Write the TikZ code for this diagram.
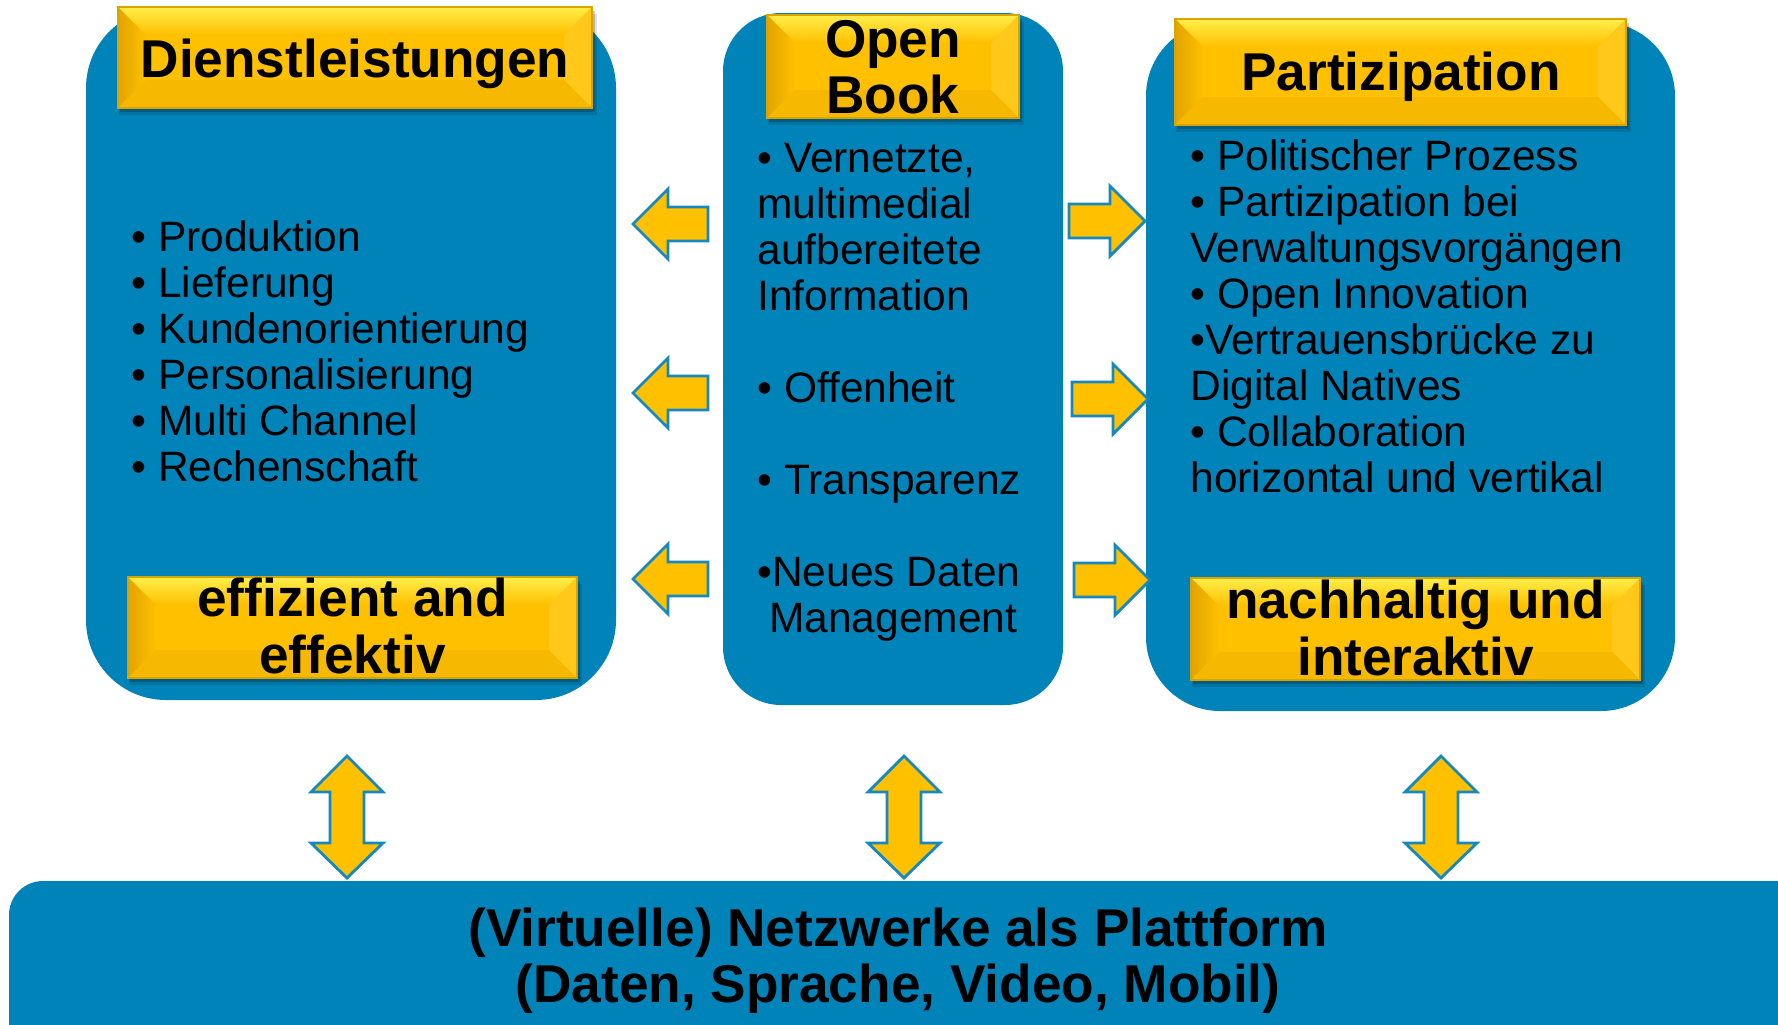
\documentclass[tikz,border=0pt]{standalone}
\usepackage{fontspec}
\setmainfont{Liberation Sans}
\usetikzlibrary{fit}
\definecolor{bblue}{HTML}{0083B9}
\definecolor{gold}{HTML}{FFC000}
\definecolor{goldtop}{HTML}{FFEE4A}
\definecolor{goldleft}{HTML}{E2A400}
\definecolor{goldright}{HTML}{FFC81A}
\definecolor{goldbot}{HTML}{F6B800}
\definecolor{goldedge}{HTML}{D9A300}
\definecolor{arrowline}{HTML}{1588C0}
\tikzset{
  bbox/.style={fill=bblue, draw=none, inner sep=0pt},
  ybox/.style={fill=gold, draw=goldedge, line width=0.6pt, inner sep=0pt,
    path picture={
      \path (path picture bounding box.north west) coordinate (pnw)
            (path picture bounding box.north east) coordinate (pne)
            (path picture bounding box.south west) coordinate (psw)
            (path picture bounding box.south east) coordinate (pse);
      \shade[top color=goldtop, bottom color=gold] (pnw) -- (pne) -- ([shift={(-14pt,-14pt)}]pne) -- ([shift={(14pt,-14pt)}]pnw) -- cycle;
      \shade[left color=goldleft, right color=gold] (pnw) -- ([shift={(14pt,-14pt)}]pnw) -- ([shift={(14pt,14pt)}]psw) -- (psw) -- cycle;
      \fill[goldright] (pne) -- ([shift={(-14pt,-14pt)}]pne) -- ([shift={(-14pt,14pt)}]pse) -- (pse) -- cycle;
      \fill[goldbot] (psw) -- ([shift={(14pt,14pt)}]psw) -- ([shift={(-14pt,14pt)}]pse) -- (pse) -- cycle;
    }},
  ttl/.style={font=\bfseries\fontsize{26.6}{28}\selectfont, inner sep=0pt, anchor=base, text=black},
  lst/.style={font=\fontsize{21.25}{23}\selectfont, inner sep=0pt, anchor=base west, text=black},
  barrow/.style={fill=gold, draw=arrowline, line width=1.4pt, line join=miter},
}
\newcommand\mkybox[3]{%
  \fill[black,opacity=.12] ([shift={(0.5pt,-3.5pt)}]#2) rectangle ([shift={(2.5pt,-3.5pt)}]#3);
  \fill[black,opacity=.2] ([shift={(0.8pt,-2pt)}]#2) rectangle ([shift={(1.5pt,-2pt)}]#3);
  \node[ybox, fit={(#2) (#3)}] (#1) {};
}
\begin{document}
\begin{tikzpicture}[x=0.5pt,y=-0.5pt]
\useasboundingbox (0,0) rectangle (1778,1024);
\clip (0,0) rectangle (1778,1024);
\fill[white] (0,0) rectangle (1778,1024);

% blue panels
\node[bbox, rounded corners=40pt, fit={(86,8) (616,700)}] (dienst) {};
\node[bbox, rounded corners=29pt, fit={(723,13) (1063,705)}] (open) {};
\node[bbox, rounded corners=37pt, fit={(1146,22) (1675,711)}] (partiz) {};
\node[bbox, rounded corners=17pt, fit={(9,881) (1810,1060)}] (netz) {};

% yellow title boxes
\mkybox{dl}{118,7}{592,108}
\mkybox{ob}{767,15}{1019,118}
\mkybox{pz}{1175,19}{1626,125}
\mkybox{ee}{128,577}{577,678}
\mkybox{ni}{1191,578}{1640,680}

\node[ttl] (tdl) at (355,77) {Dienstleistungen};
\node[ttl] (tob1) at (893,57) {Open};
\node[ttl] (tob2) at (893,113) {Book};
\node[ttl] (tpz) at (1401,90) {Partizipation};
\node[ttl] (tee1) at (352.5,616) {effizient and};
\node[ttl] (tee2) at (352.5,673) {effektiv};
\node[ttl] (tni1) at (1415.5,618) {nachhaltig und};
\node[ttl] (tni2) at (1415.5,675) {interaktiv};
\node[ttl] (tn1) at (898,946) {(Virtuelle) Netzwerke als Plattform};
\node[ttl] (tn2) at (898,1002) {(Daten, Sprache, Video, Mobil)};

% lists
\foreach \k/\t in {0/{• Produktion},1/{• Lieferung},2/{• Kundenorientierung},3/{• Personalisierung},4/{• Multi Channel},5/{• Rechenschaft}}
  \node[lst, name=L\k] at (131,{251+46*\k}) {\t};
\foreach \k/\t in {0/{• Vernetzte,},1/{multimedial},2/{aufbereitete},3/{Information},5/{• Offenheit},7/{• Transparenz},9/{•Neues Daten},10/{\ Management}}
  \node[lst, name=C\k] at (757,{172+46*\k}) {\t};
\foreach \k/\t in {0/{• Politischer Prozess},1/{• Partizipation bei},2/{Verwaltungsvorgängen},3/{• Open Innovation},4/{•Vertrauensbrücke zu},5/{Digital Natives},6/{• Collaboration},7/{horizontal und vertikal}}
  \node[lst, name=R\k] at (1190,{170+46*\k}) {\t};

% left arrows
\foreach \c in {224,393,579}
  \draw[barrow] (633,\c) -- (668,{\c-35}) -- (668,{\c-17}) -- (708,{\c-17}) -- (708,{\c+17}) -- (668,{\c+17}) -- (668,{\c+35}) -- cycle;
% right arrows
\foreach \c/\o in {221/0,399/3,580/5}
  \draw[barrow] ({1069+\o},{\c-17}) -- ({1110+\o},{\c-17}) -- ({1110+\o},{\c-35}) -- ({1145+\o},\c) -- ({1110+\o},{\c+35}) -- ({1110+\o},{\c+17}) -- ({1069+\o},{\c+17}) -- cycle;
% vertical double arrows
\foreach \X in {347,904,1441}
  \draw[barrow] (\X,756) -- ({\X+36},792) -- ({\X+17},792) -- ({\X+17},843) -- ({\X+36},843) -- (\X,878) -- ({\X-36},843) -- ({\X-17},843) -- ({\X-17},792) -- ({\X-36},792) -- cycle;
\end{tikzpicture}
\end{document}
